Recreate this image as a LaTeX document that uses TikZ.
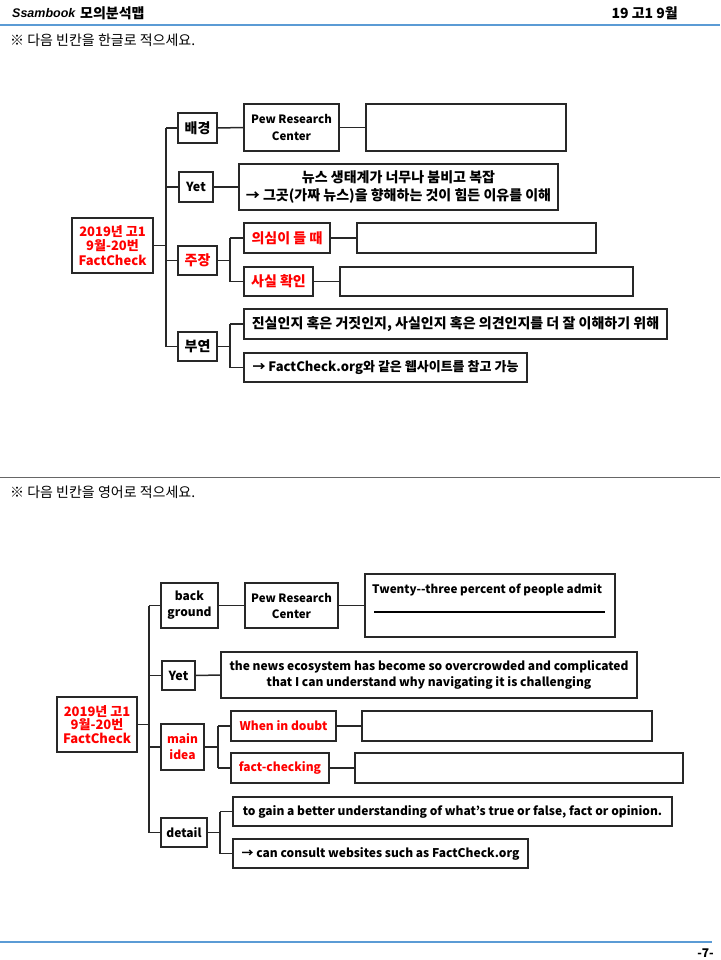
\documentclass[tikz,border=0pt]{standalone}
\usepackage{fontspec}
\setmainfont{Noto Sans CJK KR}
\newfontfamily\logofont{Liberation Sans}
\definecolor{hdrblue}{RGB}{91,155,213}
\definecolor{txtred}{RGB}{255,0,0}
\definecolor{boxline}{RGB}{40,40,40}
\newcommand{\bx}[7][]{\node[box,#1,minimum width={#5-#3},minimum height={#6-#4}] (#2) at ({(#3+#5)/2},{(#4+#6)/2}) {#7};}
\begin{document}
\begin{tikzpicture}[x=1pt,y=-1pt,
  box/.style={draw=boxline,line width=1.5pt,inner sep=0pt,align=center,font=\fontsize{14}{17}\selectfont\bfseries},
  lat/.style={font=\fontsize{12}{16}\selectfont\bfseries},
  redtxt/.style={text=txtred},
  conn/.style={draw=boxline,line width=1.5pt}]
\useasboundingbox (0,0) rectangle (720,960);
% header
\node[anchor=west,inner sep=0pt,font=\logofont\fontsize{12.5}{15}\selectfont\bfseries\itshape] (logo) at (12,13) {Ssambook};
\node[anchor=west,inner sep=0pt,font=\fontsize{14}{16}\selectfont\bfseries] (title) at (80,13) {모의분석맵};
\node[anchor=east,inner sep=0pt,font=\fontsize{14}{16}\selectfont\bfseries] (exam) at (678,13) {19 고1 9월};
\draw[hdrblue,line width=1.5pt] (0,25) -- (720,25);
\node[anchor=west,inner sep=0pt,font=\fontsize{14}{16}\selectfont] (inst1) at (10,40) {※ 다음 빈칸을 한글로 적으세요.};
% ---------- top diagram
\coordinate (t1) at (166,0);
\coordinate (s1) at (230,0);
\bx[redtxt,font=\fontsize{13}{14.5}\selectfont\bfseries]{r1}{72}{218}{153}{273}{2019년 고1\\9월-20번\\FactCheck}
\bx{a1}{178}{113}{217}{143}{배경}
\bx[font=\fontsize{12.5}{15}\selectfont\bfseries]{a2}{179}{172}{213}{202}{Yet}
\bx[redtxt]{a3}{178}{246}{217}{275}{주장}
\bx{a4}{178}{332}{217}{361}{부연}
\bx[font=\fontsize{11.5}{17}\selectfont\bfseries]{p1}{244}{104}{339}{151}{Pew Research\\Center}
\bx{e1}{366}{104}{566}{151}{}
\bx[font=\fontsize{14}{18}\selectfont\bfseries]{y1}{239}{164}{558}{210}{뉴스 생태계가 너무나 붐비고 복잡\\→ 그곳(가짜 뉴스)을 향해하는 것이 힘든 이유를 이해}
\bx[redtxt]{c1}{244}{223}{330}{253}{의심이 들 때}
\bx{e2}{357}{223}{596}{253}{}
\bx[redtxt]{c2}{244}{267}{313}{296}{사실 확인}
\bx{e3}{340}{267}{633}{296}{}
\bx{d1}{244}{309}{667}{339}{진실인지 혹은 거짓인지, 사실인지 혹은 의견인지를 더 잘 이해하기 위해}
\bx[font=\fontsize{13}{16}\selectfont\bfseries]{d2}{244}{353}{527}{382}{→ FactCheck.org와 같은 웹사이트를 참고 가능}
\draw[conn] (r1.east) -- (r1.east -| t1);
\draw[conn] (a1.west -| t1) -- (a4.west -| t1);
\foreach \n in {a1,a2,a3,a4} {\draw[conn] (\n.west) -- (\n.west -| t1);}
\draw[conn] (a1.east) -- (p1.west);
\draw[conn] (p1.east) -- (e1.west);
\draw[conn] (a2.east) -- (y1.west);
\draw[conn] (a3.east) -- (a3.east -| s1);
\draw[conn] (c1.west -| s1) -- (c2.west -| s1);
\draw[conn] (c1.west) -- (c1.west -| s1);
\draw[conn] (c2.west) -- (c2.west -| s1);
\draw[conn] (c1.east) -- (e2.west);
\draw[conn] (c2.east) -- (e3.west);
\draw[conn] (a4.east) -- (a4.east -| s1);
\draw[conn] (d1.west -| s1) -- (d2.west -| s1);
\draw[conn] (d1.west) -- (d1.west -| s1);
\draw[conn] (d2.west) -- (d2.west -| s1);
% separator
\draw[black!60,line width=1pt] (0,477) -- (720,477);
\node[anchor=west,inner sep=0pt,font=\fontsize{14}{16}\selectfont] (inst2) at (10,492) {※ 다음 빈칸을 영어로 적으세요.};
% ---------- bottom diagram
\coordinate (t2) at (149,0);
\coordinate (s2) at (218,0);
\coordinate (s3) at (220,0);
\bx[redtxt,font=\fontsize{13}{13.5}\selectfont\bfseries]{r2}{57}{697}{137}{752}{2019년 고1\\9월-20번\\FactCheck}
\bx[lat]{b1}{161}{583}{218}{628}{back\\ground}
\bx[font=\fontsize{12.5}{15}\selectfont\bfseries]{b2}{162}{661}{195}{690}{Yet}
\bx[redtxt,lat]{b3}{161}{724}{204}{770}{main\\idea}
\bx[lat]{b4}{161}{818}{207}{847}{detail}
\bx[font=\fontsize{11.5}{16}\selectfont\bfseries]{p2}{245}{583}{338}{628}{Pew Research\\Center}
\bx{e4}{365}{574}{615}{637}{}
\node[anchor=west,inner sep=0pt,font=\fontsize{11.7}{16}\selectfont\bfseries] (tw) at (372,590) {Twenty-\kern0pt-three percent of people admit};
\coordinate (ul1) at (374,612);
\coordinate (ul2) at (605,612);
\draw[black,line width=1.5pt] (ul1) -- (ul2);
\bx[lat]{y2}{221}{652}{637}{698}{the news ecosystem has become so overcrowded and complicated\\that I can understand why navigating it is challenging}
\bx[redtxt,lat]{f1}{231}{711}{336}{741}{When in doubt}
\bx{e5}{362}{711}{652}{741}{}
\bx[redtxt,lat]{f2}{231}{753}{329}{783}{fact-checking}
\bx{e6}{355}{753}{683}{783}{}
\bx[lat]{g1}{233}{797}{672}{826}{to gain a better understanding of what’s true or false, fact or opinion.}
\bx[lat]{g2}{233}{839}{528}{868}{→ can consult websites such as FactCheck.org}
\draw[conn] (r2.east) -- (r2.east -| t2);
\draw[conn] (b1.west -| t2) -- (b4.west -| t2);
\foreach \n in {b1,b2,b3,b4} {\draw[conn] (\n.west) -- (\n.west -| t2);}
\draw[conn] (b1.east) -- (p2.west);
\draw[conn] (p2.east) -- (p2.east -| e4.west);
\draw[conn] (b2.east) -- (y2.west);
\draw[conn] (b3.east) -- (b3.east -| s2);
\draw[conn] (f1.west -| s2) -- (f2.west -| s2);
\draw[conn] (f1.west) -- (f1.west -| s2);
\draw[conn] (f2.west) -- (f2.west -| s2);
\draw[conn] (f1.east) -- (e5.west);
\draw[conn] (f2.east) -- (e6.west);
\draw[conn] (b4.east) -- (b4.east -| s3);
\draw[conn] (g1.west -| s3) -- (g2.west -| s3);
\draw[conn] (g1.west) -- (g1.west -| s3);
\draw[conn] (g2.west) -- (g2.west -| s3);
% footer
\draw[hdrblue,line width=1.2pt] (0,942) -- (712,942);
\node[anchor=east,inner sep=0pt,font=\fontsize{12}{14}\selectfont\bfseries] (pg) at (714,953) {-7-};
\end{tikzpicture}
\end{document}
